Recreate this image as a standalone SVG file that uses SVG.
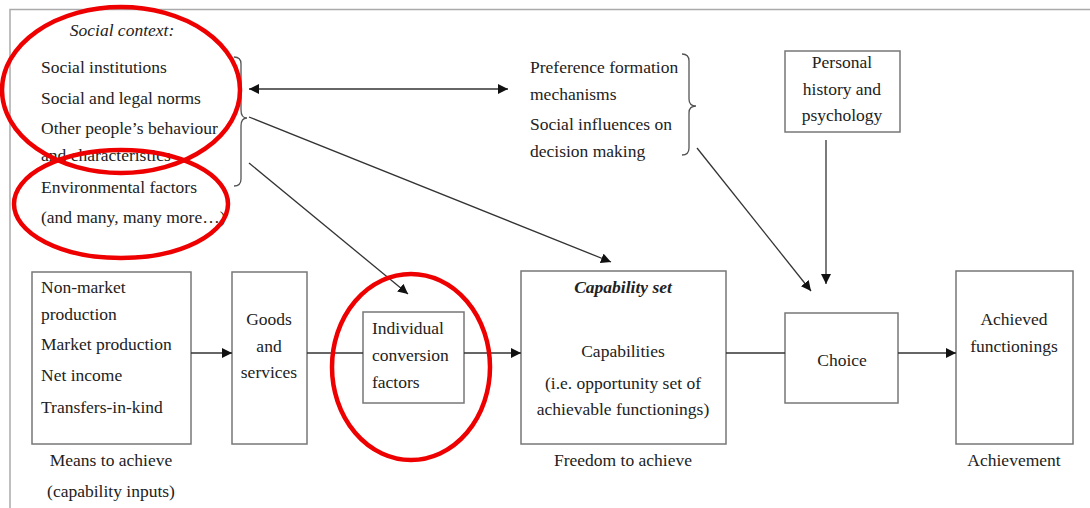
<svg xmlns="http://www.w3.org/2000/svg" width="1090" height="508" viewBox="0 0 1090 508">
<defs>
<style>
text{font-family:"Liberation Serif","Times New Roman",serif;font-size:17.5px;fill:#222}
.c{text-anchor:middle}
.it{font-style:italic}
.bi{font-style:italic;font-weight:bold}
.box{fill:#fff;stroke:#777;stroke-width:1.5}
.ln{fill:none;stroke:#333;stroke-width:1.3}
.br{fill:none;stroke:#555;stroke-width:1.3}
.red{fill:none;stroke:#e00;stroke-width:4.5}
</style>
<marker id="ah" viewBox="0 0 10 10" refX="10" refY="5" markerWidth="10" markerHeight="10" markerUnits="userSpaceOnUse" orient="auto-start-reverse">
<path d="M0,0 L10,5 L0,10 z" fill="#111"/>
</marker>
</defs>
<rect width="1090" height="508" fill="#fff"/>
<path d="M10,508 V9.5 H1090" fill="none" stroke="#aaa" stroke-width="1.5"/>

<g id="social-context">
<text x="122" y="36" class="c it">Social context:</text>
<text x="41" y="73">Social institutions</text>
<text x="41" y="104">Social and legal norms</text>
<text x="41" y="134">Other people’s behaviour</text>
<text x="41" y="161">and characteristics</text>
<text x="41" y="193">Environmental factors</text>
<text x="41" y="223">(and many, many more…)</text>
<path class="br" d="M234,57 Q241,57 241,64 V110 Q241,118 247,118 Q241,118 241,126 V179 Q241,186 234,186"/>
</g>

<g id="preference">
<text x="530" y="73">Preference formation</text>
<text x="530" y="100">mechanisms</text>
<text x="530" y="130">Social influences on</text>
<text x="530" y="157">decision making</text>
<path class="br" d="M682,54 Q689,54 689,61 V99 Q689,106 696,106 Q689,106 689,113 V148 Q689,155 682,155"/>
</g>

<g id="personal-history">
<rect class="box" x="785" y="51" width="115" height="81"/>
<text x="842" y="68" class="c">Personal</text>
<text x="842" y="95" class="c">history and</text>
<text x="842" y="121" class="c">psychology</text>
</g>

<g id="means">
<rect class="box" x="32" y="272" width="159" height="172"/>
<text x="41" y="293">Non-market</text>
<text x="41" y="320">production</text>
<text x="41" y="350">Market production</text>
<text x="41" y="381">Net income</text>
<text x="41" y="413">Transfers-in-kind</text>
<text x="111" y="466" class="c">Means to achieve</text>
<text x="111" y="497" class="c">(capability inputs)</text>
</g>

<g id="goods">
<rect class="box" x="232" y="272" width="75" height="172"/>
<text x="269" y="325" class="c">Goods</text>
<text x="269" y="352" class="c">and</text>
<text x="269" y="378" class="c">services</text>
</g>

<g id="conversion">
<rect class="box" x="363" y="312" width="101" height="91"/>
<text x="372" y="334">Individual</text>
<text x="372" y="361">conversion</text>
<text x="372" y="388">factors</text>
</g>

<g id="capability">
<rect class="box" x="521" y="271" width="205" height="173"/>
<text x="623" y="293" class="c bi">Capability set</text>
<text x="623" y="357" class="c">Capabilities</text>
<text x="623" y="389" class="c">(i.e. opportunity set of</text>
<text x="623" y="415" class="c">achievable functionings)</text>
<text x="623" y="466" class="c">Freedom to achieve</text>
</g>

<g id="choice">
<rect class="box" x="785" y="313" width="113" height="90"/>
<text x="842" y="366" class="c">Choice</text>
</g>

<g id="achieved">
<rect class="box" x="956" y="271" width="117" height="173"/>
<text x="1014" y="325" class="c">Achieved</text>
<text x="1014" y="352" class="c">functionings</text>
<text x="1014" y="466" class="c">Achievement</text>
</g>

<g id="connectors">
<line class="ln" x1="249" y1="89" x2="508" y2="89" marker-start="url(#ah)" marker-end="url(#ah)"/>
<line class="ln" x1="249" y1="117" x2="611" y2="262" marker-end="url(#ah)"/>
<line class="ln" x1="249" y1="163" x2="408" y2="294" marker-end="url(#ah)"/>
<line class="ln" x1="697" y1="148" x2="811" y2="291" marker-end="url(#ah)"/>
<line class="ln" x1="826" y1="140" x2="826" y2="284" marker-end="url(#ah)"/>
<line class="ln" x1="191" y1="353" x2="232" y2="353" stroke-width="2" marker-end="url(#ah)"/>
<line class="ln" x1="307" y1="353" x2="363" y2="353" stroke-width="2"/>
<line class="ln" x1="464" y1="353" x2="521" y2="353" stroke-width="2" marker-end="url(#ah)"/>
<line class="ln" x1="726" y1="353" x2="785" y2="353" stroke-width="2"/>
<line class="ln" x1="898" y1="353" x2="956" y2="353" stroke-width="2" marker-end="url(#ah)"/>
</g>

<g id="highlights">
<ellipse class="red" cx="121" cy="90" rx="119" ry="83"/>
<ellipse class="red" cx="121" cy="204" rx="107" ry="54"/>
<ellipse class="red" cx="411" cy="367" rx="79" ry="93"/>
</g>
</svg>
